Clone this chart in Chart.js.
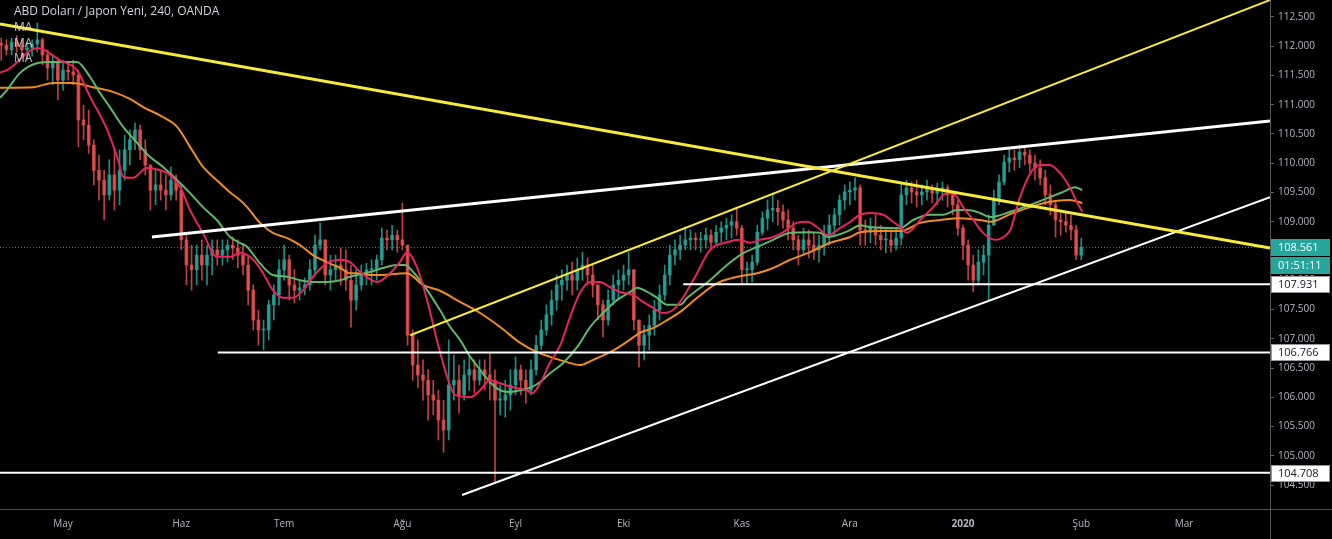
<!DOCTYPE html>
<html>
<head>
<meta charset="utf-8">
<script src="https://cdn.jsdelivr.net/npm/chart.js@4.4.1/dist/chart.umd.min.js"></script>
<style>
  html, body { margin: 0; padding: 0; background: #000; }
  canvas { display: block; }
</style>
</head>
<body>
<canvas id="usdjpy" width="1332" height="539"></canvas>
<script>
// x = trading day index, 0 = 1 May 2019 (weekends are not on the axis)
const firstDay = -12;
const firstOpen = 112.05;

// one candle per trading day
const closes = [
  112.02, 111.94, 112.07, 112.00, 111.94, 111.97, 112.04, 112.11, 111.85, 111.63, 111.73, 111.42,
  111.59, 111.56, 111.51, 110.74, 110.65, 110.31, 109.88, 109.71, 109.46, 109.80,
  109.54, 109.88, 110.23, 110.40, 110.57, 110.23, 109.97, 109.54, 109.63, 109.54,
  109.46, 109.71, 109.54, 108.69, 108.26, 108.18, 108.43, 108.26, 108.43, 108.52,
  108.43, 108.52, 108.60, 108.55, 108.43, 108.26, 107.83, 107.32, 107.15, 107.15,
  107.58, 107.75, 108.18, 108.35, 107.92, 107.83, 107.87, 107.92, 108.18, 108.60,
  108.69, 108.09, 108.18, 108.26, 108.18, 108.00, 107.66, 107.92, 108.09, 108.18,
  108.18, 108.35, 108.72, 108.69, 108.77, 108.69, 108.60, 107.06, 106.55, 106.38,
  106.29, 106.04, 105.95, 105.61, 105.44, 106.21, 106.29, 106.04, 106.38, 106.47,
  106.29, 106.47, 106.38, 106.29, 105.95, 105.95, 106.04, 106.21, 106.47, 106.29,
  106.12, 106.47, 106.89, 107.15, 107.41, 107.66, 107.92, 108.00, 108.09, 108.00,
  108.18, 108.26, 108.09, 107.92, 107.58, 107.32, 107.66, 107.92, 108.00, 108.09,
  108.18, 107.32, 106.89, 107.06, 107.23, 107.49, 107.75, 108.09, 108.43, 108.52,
  108.60, 108.69, 108.72, 108.69, 108.69, 108.77, 108.65, 108.82, 108.89, 108.94,
  109.00, 108.89, 108.18, 108.18, 108.31, 108.82, 109.06, 109.20, 109.23, 109.17,
  109.03, 108.89, 108.69, 108.52, 108.69, 108.60, 108.52, 108.60, 108.77, 108.94,
  109.12, 109.37, 109.51, 109.54, 109.58, 108.86, 108.82, 108.89, 108.77, 108.69,
  108.69, 108.60, 108.72, 109.46, 109.58, 109.51, 109.46, 109.51, 109.58, 109.49,
  109.54, 109.58, 109.46, 109.29, 108.89, 108.60, 108.26, 108.00, 108.31, 108.43,
  108.94, 109.37, 109.68, 110.02, 110.09, 110.06, 110.19, 110.14, 110.00, 109.92,
  109.75, 109.46, 109.29, 109.03, 109.00, 108.94, 108.86, 108.43, 108.561
];
const highs = [
  112.14, 112.11, 112.14, 112.18, 112.11, 112.07, 112.11, 112.40, 112.14, 111.94, 111.85, 111.80,
  111.76, 111.73, 111.76, 111.59, 110.99, 110.91, 110.40, 110.14, 109.88, 110.06,
  110.23, 110.23, 110.48, 110.57, 110.69, 110.65, 110.40, 109.97, 109.88, 109.88,
  109.80, 109.94, 109.80, 109.63, 108.77, 108.60, 108.60, 108.69, 108.60, 108.69,
  108.69, 108.69, 108.69, 108.74, 108.69, 108.60, 108.43, 107.92, 107.49, 107.32,
  107.66, 107.92, 108.35, 108.60, 108.43, 108.18, 108.00, 108.04, 108.35, 108.77,
  108.98, 108.69, 108.43, 108.43, 108.55, 108.52, 108.26, 108.18, 108.26, 108.29,
  108.35, 108.43, 108.89, 108.86, 108.94, 108.86, 109.32, 108.60, 107.15, 106.98,
  106.64, 106.47, 106.29, 106.12, 105.95, 106.98, 106.72, 106.55, 106.64, 106.69,
  106.64, 106.64, 106.64, 106.76, 106.47, 106.21, 106.29, 106.47, 106.69, 106.55,
  106.47, 106.64, 107.06, 107.32, 107.58, 107.83, 108.09, 108.18, 108.26, 108.31,
  108.38, 108.48, 108.38, 108.26, 107.92, 107.66, 107.83, 108.09, 108.18, 108.26,
  108.48, 108.18, 107.32, 107.23, 107.41, 107.66, 107.92, 108.26, 108.60, 108.69,
  108.77, 108.91, 108.86, 108.81, 108.82, 108.89, 108.86, 108.94, 109.00, 109.06,
  109.12, 109.25, 108.94, 108.31, 108.43, 108.94, 109.17, 109.37, 109.49, 109.37,
  109.29, 109.20, 109.00, 108.77, 108.89, 108.86, 108.82, 108.77, 108.94, 109.12,
  109.23, 109.46, 109.63, 109.68, 109.75, 109.63, 109.03, 109.06, 109.12, 108.94,
  108.89, 108.86, 108.89, 109.66, 109.71, 109.68, 109.71, 109.63, 109.71, 109.63,
  109.66, 109.68, 109.63, 109.46, 109.37, 108.94, 108.69, 108.43, 108.52, 108.60,
  109.12, 109.54, 109.80, 110.14, 110.26, 110.23, 110.31, 110.28, 110.23, 110.14,
  110.06, 109.88, 109.63, 109.37, 109.15, 109.17, 109.12, 108.94, 108.72
];
const lows = [
  111.76, 111.85, 111.85, 111.90, 111.80, 111.76, 111.83, 111.90, 111.68, 111.42, 111.34, 111.08,
  111.25, 111.42, 111.34, 110.28, 110.40, 110.17, 109.63, 109.37, 109.03, 109.37,
  109.20, 109.29, 109.71, 109.97, 110.23, 110.06, 109.80, 109.20, 109.29, 109.37,
  109.20, 109.37, 109.37, 108.52, 107.92, 107.83, 107.92, 108.00, 107.92, 108.09,
  108.26, 108.26, 108.31, 108.35, 108.21, 108.09, 107.58, 107.15, 106.89, 106.81,
  106.98, 107.32, 107.58, 108.00, 107.66, 107.61, 107.66, 107.75, 107.83, 108.09,
  108.52, 107.92, 107.83, 108.00, 107.92, 107.83, 107.20, 107.49, 107.83, 107.92,
  107.92, 108.00, 108.26, 108.52, 108.52, 108.48, 108.52, 106.89, 106.29, 106.17,
  105.95, 105.61, 105.70, 105.27, 105.06, 105.27, 105.95, 105.73, 105.95, 106.12,
  106.07, 106.21, 106.12, 105.95, 104.53, 105.70, 105.66, 105.78, 106.04, 106.04,
  105.90, 106.04, 106.38, 106.81, 107.06, 107.23, 107.49, 107.66, 107.83, 107.75,
  107.83, 108.00, 107.92, 107.71, 107.32, 107.03, 107.23, 107.58, 107.66, 107.83,
  107.92, 107.15, 106.52, 106.64, 106.81, 107.06, 107.32, 107.66, 107.92, 108.26,
  108.35, 108.52, 108.52, 108.52, 108.48, 108.55, 108.52, 108.60, 108.65, 108.69,
  108.72, 108.77, 107.95, 107.95, 107.97, 108.26, 108.77, 108.86, 109.00, 108.94,
  108.89, 108.69, 108.52, 108.26, 108.43, 108.38, 108.35, 108.31, 108.43, 108.60,
  108.77, 108.94, 109.20, 109.29, 109.37, 108.60, 108.60, 108.64, 108.60, 108.52,
  108.47, 108.48, 108.52, 108.60, 109.29, 109.32, 109.25, 109.29, 109.37, 109.32,
  109.29, 109.37, 109.25, 109.12, 108.77, 108.35, 108.00, 107.80, 107.92, 108.09,
  107.66, 108.94, 109.29, 109.63, 109.85, 109.88, 109.92, 109.97, 109.85, 109.71,
  109.63, 109.29, 109.12, 108.74, 108.77, 108.82, 108.69, 108.35, 108.35
];

// month ticks (trading day index) and their labels
const monthDays = [0, 23, 43, 66, 88, 109, 132, 153, 175, 198, 218];
const monthNames = ['May', 'Haz', 'Tem', 'Ağu', 'Eyl', 'Eki', 'Kas', 'Ara', '2020', 'Şub', 'Mar'];
const priceTicks = [104.5, 105, 105.5, 106, 106.5, 107, 107.5, 108, 108.5, 109, 109.5, 110, 110.5, 111, 111.5, 112, 112.5];

// the three moving averages, [day, price]
const maRed = [
  [-12.25,111.55],[-10.9,111.59],[-4.9,111.97],[-0.6,111.76],[2.7,111.59],[5.3,111.13],[8.6,110.57],
  [10.7,110.06],[11.7,109.77],[13.6,109.75],[16.3,109.92],[18.9,109.88],[20.8,109.80],[22.8,109.59],
  [24.7,109.20],[27.2,108.81],[29.9,108.40],[32.5,108.40],[34.4,108.47],[37.0,108.35],[38.9,108.12],
  [40.8,107.83],[42.8,107.70],[44.7,107.70],[46.7,107.83],[48.6,108.06],[51.3,108.29],[53.9,108.35],
  [55.8,108.31],[57.8,108.14],[61.1,107.97],[63.6,108.12],[65.5,108.31],[66.9,108.48],[68.8,108.23],
  [70.8,107.66],[72.7,106.98],[74.7,106.35],[76.2,106.04],[79.2,106.00],[81.1,106.12],[83.0,106.29],
  [85.0,106.24],[87.5,106.17],[90.2,106.12],[91.2,106.07],[92.8,106.24],[94.7,106.59],[96.7,106.89],
  [98.6,107.37],[100.5,107.78],[102.5,107.97],[104.4,107.97],[106.4,107.88],[108.3,107.80],[110.8,107.75],
  [112.8,107.63],[114.7,107.53],[116.7,107.44],[118.6,107.49],[120.6,107.71],[123.3,108.12],[125.8,108.52],
  [129.1,108.65],[131.7,108.69],[133.6,108.64],[135.5,108.69],[138.1,108.74],[140.0,108.82],[142.7,108.98],
  [144.7,109.00],[146.6,108.91],[148.8,108.77],[151.1,108.89],[153.1,109.00],[155.0,109.12],[156.9,109.15],
  [159.5,109.12],[161.4,109.00],[162.8,108.91],[164.1,108.81],[166.7,109.03],[169.2,109.25],[171.9,109.49],
  [173.5,109.46],[175.0,109.25],[177.0,109.03],[178.9,108.81],[181.3,108.69],[183.2,108.76],[184.2,108.86],
  [186.1,109.42],[188.1,109.83],[190.0,109.97],[191.9,109.97],[193.9,109.83],[195.8,109.58],[197.2,109.33],
  [198.2,109.17]
];
const maGreen = [
  [-12.25,111.12],[-10.9,111.25],[-8.4,111.54],[-5.1,111.71],[-2.5,111.73],[0.8,111.73],[2.7,111.73],
  [5.3,111.47],[7.2,111.20],[9.1,110.96],[11.7,110.62],[14.4,110.35],[16.9,110.11],[19.4,109.94],
  [22.2,109.71],[24.7,109.49],[27.2,109.25],[29.9,109.03],[32.5,108.74],[34.4,108.64],[35.8,108.57],
  [38.3,108.29],[40.8,108.09],[43.6,108.06],[46.1,108.00],[48.6,107.97],[51.3,107.97],[53.9,108.00],
  [55.8,108.06],[57.2,108.09],[59.7,108.14],[62.2,108.21],[65.0,108.26],[66.5,108.26],[68.1,108.14],
  [70.8,107.83],[73.3,107.49],[75.3,107.20],[77.2,106.98],[79.2,106.69],[81.1,106.47],[83.0,106.26],
  [85.0,106.12],[86.9,106.09],[88.9,106.12],[90.8,106.16],[92.8,106.26],[94.7,106.41],[97.2,106.58],
  [100.0,106.86],[102.5,107.20],[105.0,107.44],[107.7,107.66],[110.3,107.80],[111.6,107.87],[113.6,107.80],
  [115.5,107.70],[117.5,107.58],[120.0,107.58],[121.4,107.70],[125.8,108.00],[129.1,108.26],[132.2,108.46],
  [135.0,108.57],[138.1,108.69],[141.4,108.81],[145.3,108.82],[147.2,108.81],[148.8,108.74],[150.5,108.77],
  [153.1,108.86],[155.0,108.94],[156.9,108.91],[162.8,108.89],[165.3,109.03],[168.6,109.12],[171.1,109.12],
  [173.9,109.20],[175.8,109.20],[178.3,109.15],[180.3,109.08],[184.2,109.17],[188.1,109.29],[191.9,109.42],
  [194.5,109.51],[196.8,109.59],[198.2,109.54]
];
const maOrange = [
  [-12.25,111.29],[-5.8,111.30],[-1.9,111.37],[1.9,111.37],[5.8,111.30],[9.7,111.22],[13.0,111.10],
  [15.6,110.96],[19.4,110.79],[22.2,110.62],[24.7,110.28],[27.2,109.94],[29.9,109.71],[32.5,109.50],
  [34.4,109.37],[35.8,109.25],[38.3,108.98],[40.8,108.81],[43.6,108.72],[46.1,108.60],[48.6,108.43],
  [51.3,108.31],[53.9,108.21],[55.8,108.12],[57.2,108.12],[59.7,108.09],[62.2,108.09],[65.0,108.11],
  [66.9,108.12],[70.0,107.92],[73.3,107.82],[77.2,107.63],[81.1,107.44],[85.0,107.20],[88.9,106.93],
  [92.2,106.77],[94.7,106.69],[98.0,106.60],[100.5,106.55],[103.1,106.64],[106.4,106.77],[109.7,106.95],
  [112.2,107.10],[114.7,107.18],[117.5,107.32],[120.0,107.46],[123.3,107.70],[127.2,107.95],[131.1,108.06],
  [135.0,108.12],[138.1,108.21],[141.4,108.35],[145.3,108.48],[149.2,108.64],[153.1,108.74],[155.0,108.82],
  [158.9,108.84],[162.8,108.84],[166.7,108.98],[170.6,109.03],[174.4,109.06],[178.3,109.03],[180.3,109.00],
  [184.2,109.13],[188.1,109.25],[191.9,109.34],[195.8,109.37],[198.2,109.32]
];

// drawn trend lines, [day, price] end points
const yellowDown = [[-12.25, 112.38], [234.7, 108.55]];
const yellowUp = [[67.5, 107.06], [234.7, 112.79]];
const whiteTop = [[17.3, 108.74], [234.7, 110.72]];
const whiteBottom = [[77.6, 104.33], [234.7, 109.42]];

// horizontal levels and where they start
const levels = [107.931, 106.766, 104.708];
const levelFrom = [120.6, 30.1, -12.25];

const lastPrice = 108.561;
const countdown = '01:51:11';

const xMin = -12.25, xMax = 234.7;
const upColor = 'rgba(38,166,154,0.85)';
const downColor = 'rgba(239,83,80,0.8)';

// build floating bars: body = [open, close], wick = [low, high]
const bodies = [], wicks = [], candleColors = [];
let prevClose = firstOpen;
closes.forEach((c, i) => {
  const d = firstDay + i;
  const lo = Math.min(lows[i], prevClose, c);
  const hi = Math.max(highs[i], prevClose, c);
  bodies.push({ x: d, y: [prevClose, c] });
  wicks.push({ x: d, y: [lo, hi] });
  candleColors.push(c >= prevClose ? upColor : downColor);
  prevClose = c;
});

function pts(arr) {
  return arr.map(p => ({ x: p[0], y: p[1] }));
}

function lineSet(arr, color, width, order, extra) {
  return Object.assign({
    type: 'line',
    data: pts(arr),
    borderColor: color,
    borderWidth: width,
    pointRadius: 0,
    fill: false,
    order: order
  }, extra || {});
}

const datasets = [
  { type: 'bar', data: wicks, backgroundColor: candleColors, barThickness: 1, grouped: false, minBarLength: 1, order: 12 },
  { type: 'bar', data: bodies, backgroundColor: candleColors, barThickness: 3, grouped: false, minBarLength: 1, order: 11 },
  lineSet([[xMin, lastPrice], [xMax, lastPrice]], 'rgba(38,166,154,0.9)', 1, 8, { borderDash: [1, 2] }),
  lineSet(maOrange, '#f08a24', 2, 6, { cubicInterpolationMode: 'monotone' }),
  lineSet(maGreen, '#5fb76a', 2, 5, { cubicInterpolationMode: 'monotone' }),
  lineSet(maRed, '#e8245f', 2, 4, { cubicInterpolationMode: 'monotone' }),
  lineSet(whiteTop, '#ffffff', 3, 2),
  lineSet(whiteBottom, '#ffffff', 2, 2),
  lineSet(yellowDown, '#f7ea3a', 3, 1),
  lineSet(yellowUp, '#f7ea3a', 2, 1)
];
levels.forEach((lv, i) => {
  datasets.push(lineSet([[levelFrom[i], lv], [xMax, lv]], '#ffffff', 2, 2));
});

const overlay = {
  id: 'overlay',
  afterDraw(chart) {
    const { ctx, chartArea, scales } = chart;
    const y = scales.y;
    ctx.save();

    // pane separators
    ctx.strokeStyle = '#555';
    ctx.lineWidth = 1;
    ctx.beginPath();
    ctx.moveTo(chartArea.right + 0.5, 0);
    ctx.lineTo(chartArea.right + 0.5, chart.height);
    ctx.moveTo(0, chartArea.bottom + 0.5);
    ctx.lineTo(chart.width, chartArea.bottom + 0.5);
    ctx.stroke();

    // legend text
    ctx.textBaseline = 'middle';
    ctx.textAlign = 'left';
    ctx.font = '12px "Open Sans"';
    ctx.fillStyle = '#d1d4dc';
    ctx.fillText('ABD Doları / Japon Yeni, 240, OANDA', 14, 12);
    ctx.fillStyle = 'rgba(225,225,225,0.85)';
    ['MA', 'MA', 'MA'].forEach((t, i) => ctx.fillText(t, 14, 28 + i * 15.5));

    // price tags on the axis
    const left = chartArea.right + 1;
    ctx.font = '11px "Open Sans"';
    function tag(value, text, bg, fg, dy, border) {
      const py = Math.round(y.getPixelForValue(value) + dy);
      ctx.fillStyle = bg;
      ctx.fillRect(left, py - 8, 59, 17);
      if (border) {
        ctx.strokeStyle = border;
        ctx.strokeRect(left + 0.5, py - 7.5, 58, 16);
      }
      ctx.fillStyle = fg;
      ctx.fillText(text, left + 7, py + 0.5);
    }
    levels.forEach(lv => tag(lv, lv.toFixed(3), '#ffffff', '#131722', 0, '#9598a1'));
    tag(lastPrice, lastPrice.toFixed(3), '#26a69a', '#ffffff', 0);
    tag(lastPrice, countdown, '#26a69a', '#ffffff', 18);
    ctx.restore();
  }
};

new Chart(document.getElementById('usdjpy'), {
  type: 'bar',
  data: { datasets: datasets },
  options: {
    responsive: false,
    animation: false,
    devicePixelRatio: 1,
    events: [],
    layout: { padding: 0 },
    plugins: { legend: { display: false }, tooltip: { enabled: false } },
    scales: {
      x: {
        type: 'linear',
        min: xMin,
        max: xMax,
        offset: false,
        afterFit: s => { s.height = 30; s.paddingLeft = 0; s.paddingRight = 0; },
        afterBuildTicks: s => { s.ticks = monthDays.map(v => ({ value: v })); },
        ticks: {
          autoSkip: false,
          maxRotation: 0,
          padding: 9,
          color: '#b2b5be',
          callback: v => monthNames[monthDays.indexOf(v)],
          font: c => ({ family: 'Open Sans', size: 10, weight: (c.tick && c.tick.value === 175) ? 'bold' : 'normal' })
        },
        grid: { display: false, drawTicks: false },
        border: { display: false }
      },
      y: {
        position: 'right',
        min: 104.09,
        max: 112.79,
        afterFit: s => { s.width = 62; s.paddingTop = 0; s.paddingBottom = 0; },
        afterBuildTicks: s => { s.ticks = priceTicks.map(v => ({ value: v })); },
        ticks: {
          padding: 4,
          color: '#b2b5be',
          font: { family: 'Open Sans', size: 10 },
          callback: v => v.toFixed(3)
        },
        grid: { drawOnChartArea: false, tickLength: 4, color: '#666' },
        border: { display: false }
      }
    }
  },
  plugins: [overlay]
});
</script>
</body>
</html>
